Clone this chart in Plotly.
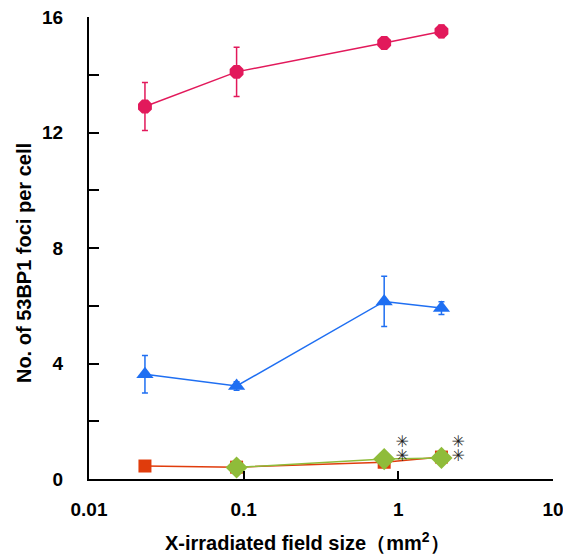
import plotly.graph_objects as go

field_size = [0.023, 0.09, 0.81, 1.9]

pink_y = [12.9, 14.1, 15.1, 15.5]
pink_err = [0.83, 0.85, 0.12, 0.22]

blue_y = [3.63, 3.22, 6.15, 5.92]
blue_err = [0.65, 0.15, 0.87, 0.22]

orange_y = [0.45, 0.41, 0.58, 0.76]

green_x = [0.09, 0.81, 1.9]
green_y = [0.40, 0.69, 0.73]

star_x = [1.06, 1.06, 2.44, 2.44]
star_y = [1.25, 0.76, 1.25, 0.76]

y_ticks = [0, 4, 8, 12, 16]
x_ticks = [0.01, 0.1, 1, 10]
x_tick_labels = ["0.01", "0.1", "1", "10"]

x_title = "X-irradiated field size（mm<sup>2</sup>）"
y_title = "No. of 53BP1 foci per cell"

PINK = "#e2195b"
BLUE = "#1f6ff2"
ORANGE = "#e03c0c"
GREEN = "#8fbc3a"

fig = go.Figure()

fig.add_trace(go.Scatter(
    x=field_size, y=orange_y, mode="lines+markers",
    line=dict(color=ORANGE, width=1.5),
    marker=dict(symbol="square", size=13, color=ORANGE),
))
fig.add_trace(go.Scatter(
    x=green_x, y=green_y, mode="lines+markers",
    line=dict(color=GREEN, width=1.5),
    marker=dict(symbol="diamond", size=17, color=GREEN),
))
fig.add_trace(go.Scatter(
    x=field_size, y=blue_y, mode="lines+markers",
    line=dict(color=BLUE, width=1.5),
    marker=dict(symbol="triangle-up", size=15, color=BLUE),
    error_y=dict(type="data", array=blue_err, color=BLUE, thickness=1.5, width=3),
))
fig.add_trace(go.Scatter(
    x=field_size, y=pink_y, mode="lines+markers",
    line=dict(color=PINK, width=1.5),
    marker=dict(symbol="octagon", size=15, color=PINK),
    error_y=dict(type="data", array=pink_err, color=PINK, thickness=1.5, width=3),
))
fig.add_trace(go.Scatter(
    x=star_x, y=star_y, mode="text", text=["✳"] * len(star_x),
    textfont=dict(family="DejaVu Sans", size=16, color="#222222"),
))

title_font = dict(size=20, family="Liberation Sans", weight="bold", color="black")

fig.update_layout(
    width=563, height=546,
    margin=dict(l=81, r=18, t=9, b=75),
    plot_bgcolor="white", paper_bgcolor="white",
    showlegend=False,
    font=dict(family="Liberation Sans", color="black"),
    annotations=[
        dict(text=x_title, xref="paper", yref="paper", x=0.47, y=-0.136,
             xanchor="center", yanchor="middle", showarrow=False, font=title_font),
        dict(text=y_title, xref="paper", yref="paper", x=-0.14, y=0.4675,
             xanchor="center", yanchor="middle", textangle=-90, showarrow=False,
             font=title_font),
    ],
)
fig.update_xaxes(
    type="log", range=[-2, 1], automargin=False,
    tickvals=x_ticks, ticktext=x_tick_labels,
    ticks="inside", ticklen=8, tickwidth=2, tickcolor="black",
    showline=True, linecolor="black", linewidth=2,
    showgrid=False, zeroline=False,
    tickfont=dict(size=19, family="Liberation Sans", weight="bold"),
    ticklabelstandoff=12, ticklabeloverflow="allow",
)
fig.update_yaxes(
    range=[0, 16], tickvals=y_ticks, automargin=False,
    ticks="inside", ticklen=10, tickwidth=2, tickcolor="black",
    minor=dict(dtick=2, ticks="inside", ticklen=10, tickwidth=2, tickcolor="black", showgrid=False),
    showline=True, linecolor="black", linewidth=2,
    showgrid=False, zeroline=False,
    tickfont=dict(size=19, family="Liberation Sans", weight="bold"),
    ticklabelstandoff=20, ticklabeloverflow="allow",
)

fig.write_html("out.html")
